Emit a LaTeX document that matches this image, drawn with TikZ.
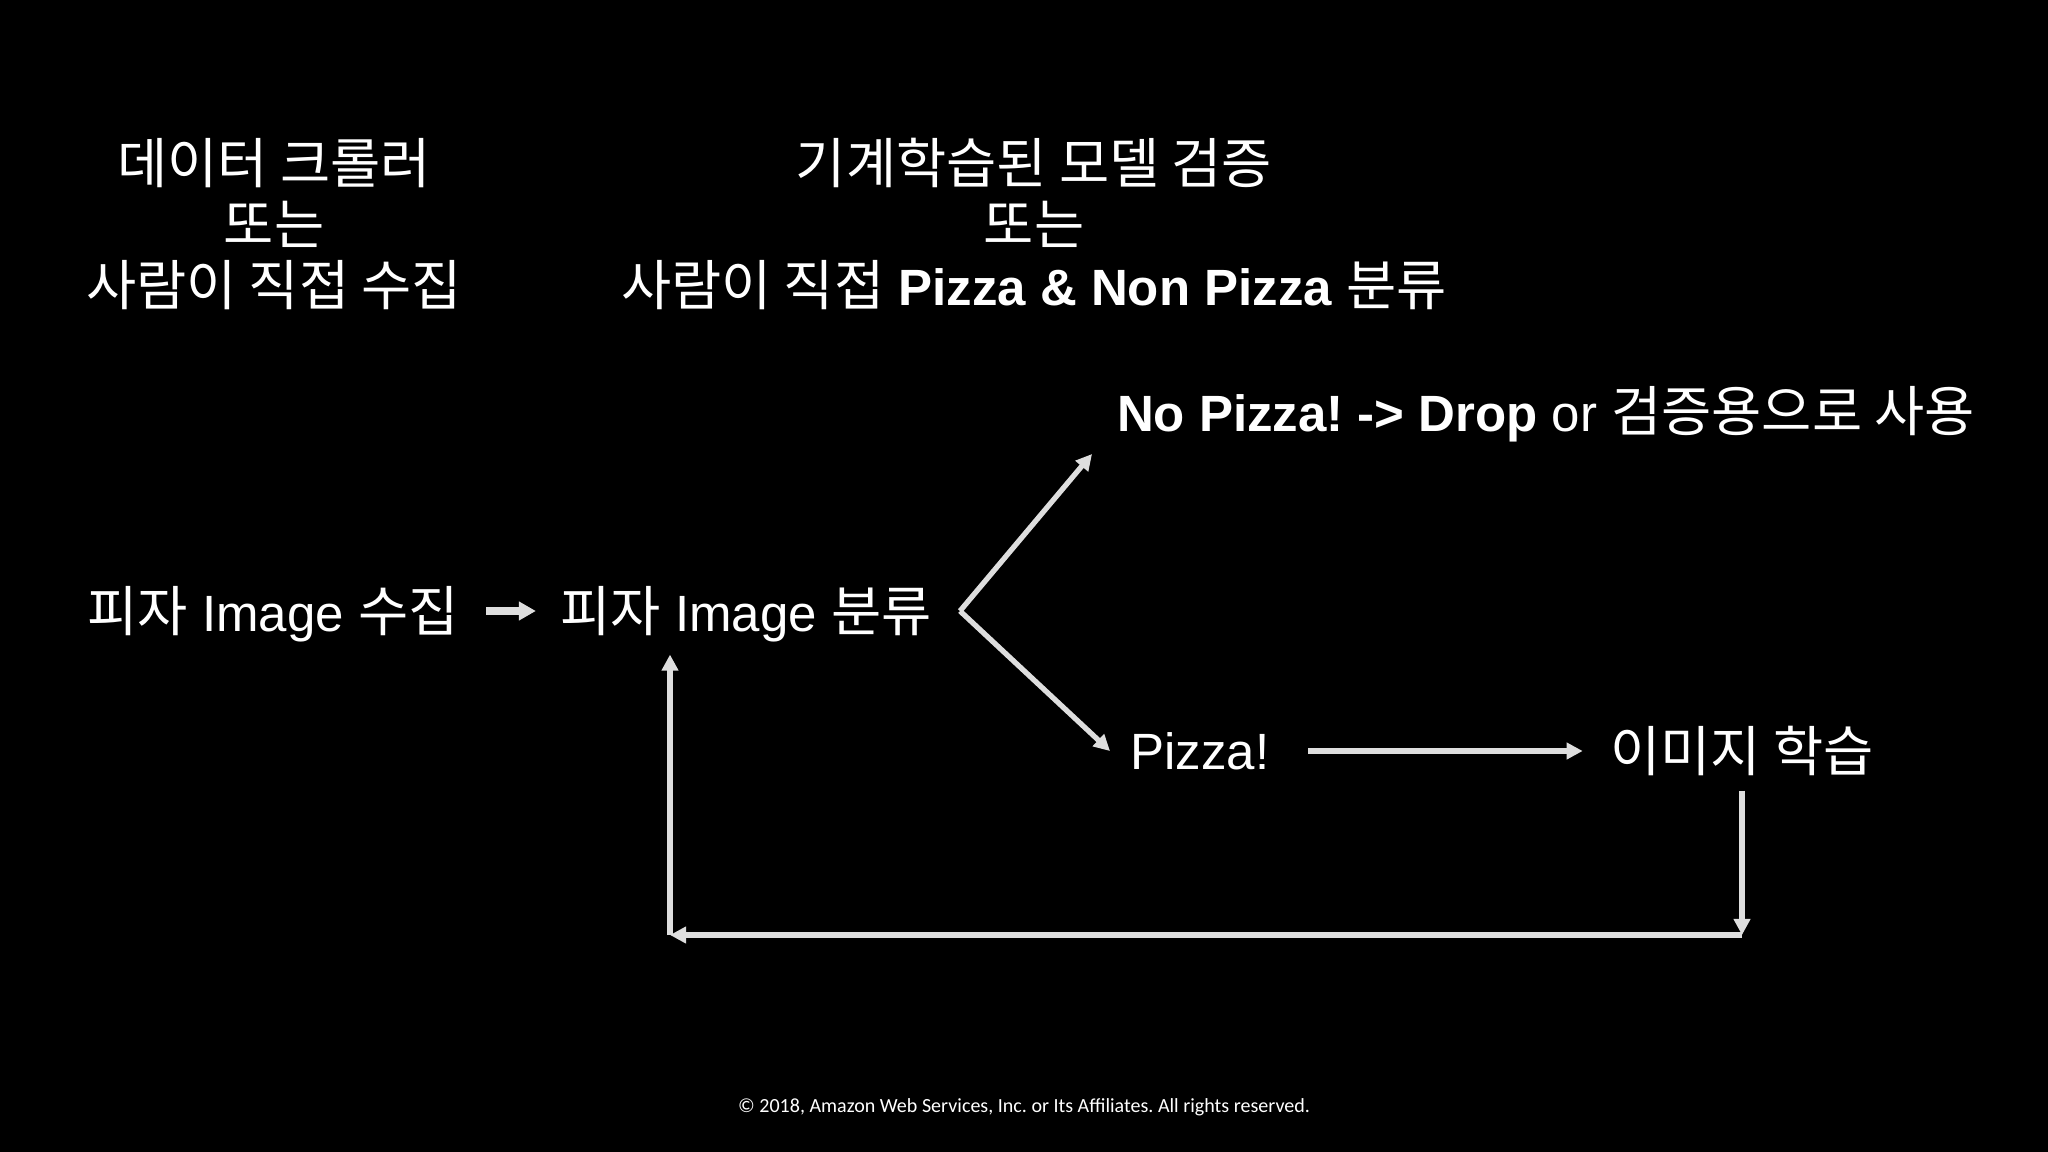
\documentclass[tikz,border=0pt]{standalone}
\usepackage{fontspec}
\setmainfont{Liberation Sans}
\newfontfamily\kofont{Noto Sans CJK KR}[Scale=1.07]
\newfontfamily\notefont{Carlito}
\usetikzlibrary{arrows.meta}
\newcommand\ko[1]{{\kofont #1}}
\definecolor{arrowgray}{RGB}{222,222,222}
\frenchspacing

\begin{document}
\begin{tikzpicture}[x=0.01cm, y=-0.01cm,
    txt/.style={text=white, inner sep=0pt, font=\fontsize{14.5}{17.4}\selectfont},
    arr/.style={draw=arrowgray, line width=1.5pt, -{Triangle[length=0.16cm, width=0.16cm]}},
    fatarr/.style={draw=arrowgray, line width=2pt, -{Triangle[length=0.17cm, width=0.18cm]}}]
      \fill[black] (0,0) rectangle (2048,1152);

      \node[txt, align=center] (crawler) at (274,224) {\ko{데이터 크롤러}\\\ko{또는}\\\ko{사람이 직접 수집}};
      \node[txt, align=center] (verify) at (1034,224) {\ko{기계학습된 모델 검증}\\\ko{또는}\\\ko{사람이 직접} \textbf{Pizza \& Non Pizza} \ko{분류}};
      \node[txt] (collect) at (273,614) {\ko{피자} Image \ko{수집}};
      \node[txt] (classify) at (746,614) {\ko{피자} Image \ko{분류}};
      \node[txt] (nopizza) at (1546,414) {\textbf{No Pizza! -> Drop} or \ko{검증용으로 사용}};
      \node[txt] (pizza) at (1200,751) {Pizza!};
      \node[txt] (learn) at (1742,751) {\ko{이미지 학습}};
      \node[text=white, inner sep=0pt, font=\notefont\fontsize{5.7}{7}\selectfont] (note) at (1024,1107) {© 2018, Amazon Web Services, Inc. or Its Affiliates. All rights reserved.};

      \coordinate (fork) at (960,611);
      \coordinate (uptip) at (1092,454);
      \coordinate (downtip) at (1110,751);
      \coordinate (loopR) at (1742,935);
      \coordinate (loopL) at (670,935);

      \draw[fatarr, shorten <=0.27cm, shorten >=0.24cm] ([yshift=0.03cm]collect.east) -- ([yshift=0.03cm]classify.west);
      \draw[arr] (fork) -- (uptip);
      \draw[arr] (fork) -- (downtip);
      \draw[arr, shorten <=0.38cm, shorten >=0.27cm] (pizza.east) -- (learn.west);
      \draw[arr, shorten <=0.14cm] (learn.south) -- (loopR);
      \draw[arr] (loopR) -- (loopL);
      \draw[arr, shorten >=0.12cm] (loopL) -- (loopL |- classify.south);
    \end{tikzpicture}
\end{document}
